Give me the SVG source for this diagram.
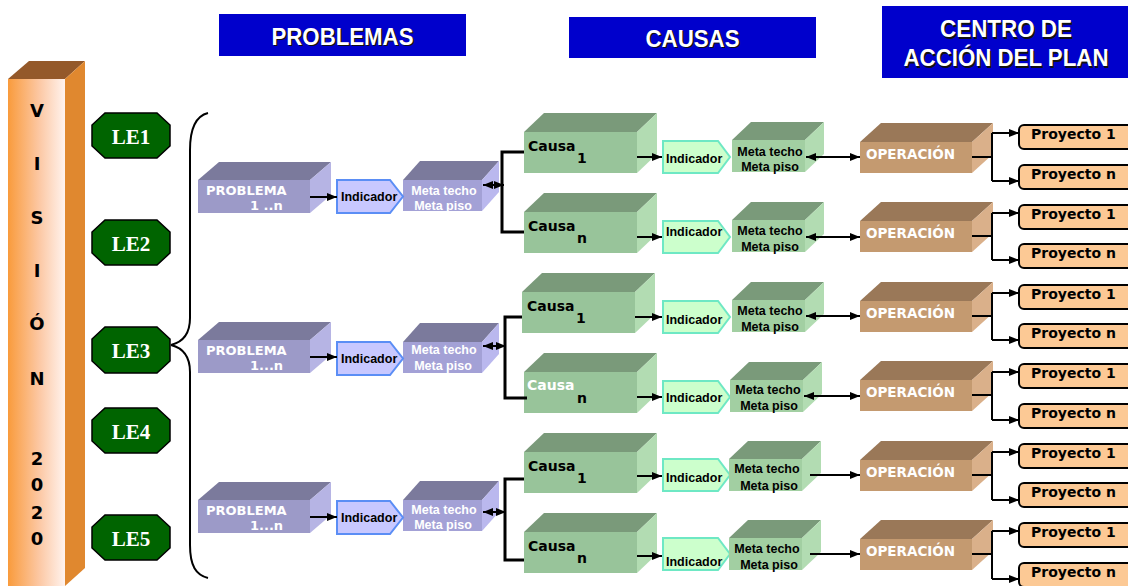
<svg xmlns="http://www.w3.org/2000/svg" width="1128" height="586" viewBox="0 0 1128 586">
<defs>
<linearGradient id="vg" x1="0" y1="0" x2="1" y2="0">
<stop offset="0" stop-color="#f99b3c"/>
<stop offset="0.55" stop-color="#fcc8a4"/>
<stop offset="1" stop-color="#fff3ee"/>
</linearGradient>
<marker id="ah" viewBox="0 0 10 8" refX="10" refY="4" markerWidth="10" markerHeight="8" markerUnits="userSpaceOnUse" orient="auto-start-reverse">
<path d="M0,0 L10,4 L0,8 z" fill="#000"/>
</marker>
<style>
.hdr{fill:#0000cc}
.ht{font-family:"Liberation Sans",Arial,sans-serif;font-weight:bold;font-size:24px;text-anchor:middle}
.hs{fill:#111}
.hw{fill:#fff}
.le{fill:#006400;stroke:#000;stroke-width:1.5}
.let{font-family:"Liberation Serif","Times New Roman",serif;font-weight:bold;font-size:21px;fill:#fff;text-anchor:middle}
.vt{font-family:"DejaVu Sans",sans-serif;font-weight:bold;font-size:18px;fill:#000;text-anchor:middle}
.pf{fill:#9c9ac8}.pt{fill:#7b7a9c}.ps{fill:#b6b4e4}
.mf{fill:#a3a1d6}.ms{fill:#bab8ee}
.cf{fill:#98c49a}.ct{fill:#7a9a7a}.cs{fill:#b2dcb2}
.gf{fill:#a2cfa2}
.of{fill:#c49a70}.ot{fill:#9a7858}.os{fill:#dab08a}
.bi{fill:#c8c8ff;stroke:#5b8ef5;stroke-width:2}
.gi{fill:#ccffcc;stroke:#6ee8c4;stroke-width:2}
.pr{fill:#fcc995;stroke:#000;stroke-width:2}
.bt{font-family:"DejaVu Sans",sans-serif;font-weight:bold}
.pbt{font-size:13px;fill:#fff}
.ct1{font-size:14px;fill:#000}
.opt{font-size:13.5px;fill:#fff}
.prt{font-size:14px;fill:#000}
.st{font-family:"Liberation Sans",Arial,sans-serif;font-weight:bold;font-size:12.5px}
.mw{fill:#fff;text-anchor:middle}
.mb{fill:#000;text-anchor:middle}
.ib{fill:#000}
.ln{fill:none;stroke:#000;stroke-width:2}
.lt{fill:none;stroke:#000;stroke-width:3}
.ar{fill:none;stroke:#000;stroke-width:2;marker-end:url(#ah)}
.da{fill:none;stroke:#000;stroke-width:2;marker-start:url(#ah);marker-end:url(#ah)}
</style>
</defs>
<rect width="1128" height="586" fill="#fff"/>

<g id="headers">
<rect class="hdr" x="219" y="14" width="247" height="42"/>
<text class="ht hs" x="344" y="46" textLength="142" lengthAdjust="spacingAndGlyphs">PROBLEMAS</text>
<text class="ht hw" x="342.5" y="44.5" textLength="142" lengthAdjust="spacingAndGlyphs">PROBLEMAS</text>
<rect class="hdr" x="569" y="17" width="247" height="41"/>
<text class="ht hs" x="694" y="48" textLength="94" lengthAdjust="spacingAndGlyphs">CAUSAS</text>
<text class="ht hw" x="692.5" y="46.5" textLength="94" lengthAdjust="spacingAndGlyphs">CAUSAS</text>
<rect class="hdr" x="882" y="6" width="246" height="72"/>
<text class="ht hs" x="1007.5" y="38.5" textLength="132" lengthAdjust="spacingAndGlyphs">CENTRO DE</text>
<text class="ht hw" x="1006" y="37" textLength="132" lengthAdjust="spacingAndGlyphs">CENTRO DE</text>
<text class="ht hs" x="1007.5" y="67.5" textLength="205" lengthAdjust="spacingAndGlyphs">ACCIÓN DEL PLAN</text>
<text class="ht hw" x="1006" y="66" textLength="205" lengthAdjust="spacingAndGlyphs">ACCIÓN DEL PLAN</text>
</g>

<g id="vision">
<polygon points="8,79 29,61 85,61 65,79" fill="#94592a"/>
<polygon points="65,79 85,61 85,568 65,586" fill="#e0882f"/>
<rect x="8" y="79" width="57" height="507" fill="url(#vg)"/>
<text class="vt" x="37" y="117">V</text>
<text class="vt" x="37" y="170">I</text>
<text class="vt" x="37" y="224">S</text>
<text class="vt" x="37" y="277">I</text>
<text class="vt" x="37" y="330">Ó</text>
<text class="vt" x="37" y="385">N</text>
<text class="vt" x="37" y="465">2</text>
<text class="vt" x="37" y="491">0</text>
<text class="vt" x="37" y="519">2</text>
<text class="vt" x="37" y="545">0</text>
</g>

<g id="le1"><polygon class="le" points="105,113 157,113 170,125 170,146 157,158 105,158 92,146 92,125"/><text class="let" x="131" y="144">LE1</text></g>
<g id="le2"><polygon class="le" points="105,220 157,220 170,232 170,253 157,265 105,265 92,253 92,232"/><text class="let" x="131" y="251">LE2</text></g>
<g id="le3"><polygon class="le" points="105,327 157,327 170,339 170,361 157,373 105,373 92,361 92,339"/><text class="let" x="131" y="358">LE3</text></g>
<g id="le4"><polygon class="le" points="105,408 157,408 170,420 170,441 157,453 105,453 92,441 92,420"/><text class="let" x="131" y="439">LE4</text></g>
<g id="le5"><polygon class="le" points="105,515 157,515 170,527 170,548 157,560 105,560 92,548 92,527"/><text class="let" x="131" y="546">LE5</text></g>

<!-- Problems -->
<g id="problema1">
<polygon class="pt" points="198,180 219,162 331,162 310,180"/><polygon class="ps" points="310,180 331,162 331,195 310,213"/><rect class="pf" x="198" y="180" width="112" height="33"/>
<text class="bt pbt" x="206" y="195">PROBLEMA</text><text class="bt pbt" x="250" y="210">1 ..n</text>
</g>
<g id="meta-p1">
<polygon class="pt" points="403,180 420,161 499,161 482,180"/><polygon class="ms" points="482,180 499,161 499,192 482,211"/><rect class="mf" x="403" y="180" width="79" height="31"/>
<text class="st mw" x="444" y="195">Meta techo</text><text class="st mw" x="443" y="210">Meta piso</text>
</g>
<g id="ind-p1"><polygon class="bi" points="337,180 390,180 403,196.5 390,213 337,213"/><text class="st ib" x="341" y="201">Indicador</text></g>

<g id="problema2">
<polygon class="pt" points="198,340 219,322 331,322 310,340"/><polygon class="ps" points="310,340 331,322 331,355 310,373"/><rect class="pf" x="198" y="340" width="112" height="33"/>
<text class="bt pbt" x="206" y="355">PROBLEMA</text><text class="bt pbt" x="250" y="370">1...n</text>
</g>
<g id="meta-p2">
<polygon class="pt" points="403,342 420,323 499,323 482,342"/><polygon class="ms" points="482,342 499,323 499,354 482,373"/><rect class="mf" x="403" y="342" width="79" height="31"/>
<text class="st mw" x="444" y="354">Meta techo</text><text class="st mw" x="443" y="370">Meta piso</text>
</g>
<g id="ind-p2"><polygon class="bi" points="337,342 390,342 403,358.5 390,375 337,375"/><text class="st ib" x="341" y="363">Indicador</text></g>

<g id="problema3">
<polygon class="pt" points="198,500 219,482 331,482 310,500"/><polygon class="ps" points="310,500 331,482 331,515 310,533"/><rect class="pf" x="198" y="500" width="112" height="33"/>
<text class="bt pbt" x="206" y="515">PROBLEMA</text><text class="bt pbt" x="250" y="530">1...n</text>
</g>
<g id="meta-p3">
<polygon class="pt" points="403,500 420,481 499,481 482,500"/><polygon class="ms" points="482,500 499,481 499,512 482,531"/><rect class="mf" x="403" y="500" width="79" height="31"/>
<text class="st mw" x="444" y="514">Meta techo</text><text class="st mw" x="443" y="529">Meta piso</text>
</g>
<g id="ind-p3"><polygon class="bi" points="337,501 390,501 403,517.5 390,534 337,534"/><text class="st ib" x="341" y="522">Indicador</text></g>

<!-- Causa rows -->
<g id="causa-r1">
<polygon class="ct" points="524,132 544,113 657,113 637,132"/><polygon class="cs" points="637,132 657,113 657,154 637,173"/><rect class="cf" x="524" y="132" width="113" height="41"/>
<text class="bt ct1" x="528" y="151">Causa</text><text class="bt ct1" x="577" y="163">1</text>
</g>
<g id="causa-r2">
<polygon class="ct" points="524,212 544,193 657,193 637,212"/><polygon class="cs" points="637,212 657,193 657,234 637,253"/><rect class="cf" x="524" y="212" width="113" height="41"/>
<text class="bt ct1" x="528" y="231">Causa</text><text class="bt ct1" x="577" y="243">n</text>
</g>
<g id="causa-r3">
<polygon class="ct" points="522,292 542,273 655,273 635,292"/><polygon class="cs" points="635,292 655,273 655,314 635,333"/><rect class="cf" x="522" y="292" width="113" height="41"/>
<text class="bt ct1" x="527" y="311">Causa</text><text class="bt ct1" x="576" y="323">1</text>
</g>
<g id="causa-r4">
<polygon class="ct" points="524,372 544,353 657,353 637,372"/><polygon class="cs" points="637,372 657,353 657,394 637,413"/><rect class="cf" x="524" y="372" width="113" height="41"/>
<text class="bt ct1" x="527" y="390" style="fill:#fff">Causa</text><text class="bt ct1" x="577" y="403">n</text>
</g>
<g id="causa-r5">
<polygon class="ct" points="524,452 544,433 657,433 637,452"/><polygon class="cs" points="637,452 657,433 657,474 637,493"/><rect class="cf" x="524" y="452" width="113" height="41"/>
<text class="bt ct1" x="528" y="471">Causa</text><text class="bt ct1" x="577" y="483">1</text>
</g>
<g id="causa-r6">
<polygon class="ct" points="524,532 544,513 657,513 637,532"/><polygon class="cs" points="637,532 657,513 657,554 637,573"/><rect class="cf" x="524" y="532" width="113" height="41"/>
<text class="bt ct1" x="528" y="551">Causa</text><text class="bt ct1" x="577" y="563">n</text>
</g>

<!-- Green indicadores -->
<g id="ind-r1"><polygon class="gi" points="663,141 718,141 730,157 718,173 663,173"/><text class="st ib" x="666" y="163">Indicador</text></g>
<g id="ind-r2"><polygon class="gi" points="663,221 718,221 730,237 718,253 663,253"/><text class="st ib" x="666" y="236">Indicador</text></g>
<g id="ind-r3"><polygon class="gi" points="663,301 718,301 730,317 718,333 663,333"/><text class="st ib" x="666" y="324">Indicador</text></g>
<g id="ind-r4"><polygon class="gi" points="663,381 718,381 730,397 718,413 663,413"/><text class="st ib" x="666" y="402">Indicador</text></g>
<g id="ind-r5"><polygon class="gi" points="663,459 718,459 730,475 718,491 663,491"/><text class="st ib" x="666" y="482">Indicador</text></g>
<g id="ind-r6"><polygon class="gi" points="663,538 718,538 730,554 718,570 663,570"/><text class="st ib" x="666" y="566">Indicador</text></g>

<!-- Green metas -->
<g id="meta-r1"><polygon class="ct" points="732,140 751,122 824,122 805,140"/><polygon class="cs" points="805,140 824,122 824,154 805,172"/><rect class="gf" x="732" y="140" width="73" height="32"/><text class="st mb" x="770" y="156">Meta techo</text><text class="st mb" x="770" y="171">Meta piso</text></g>
<g id="meta-r2"><polygon class="ct" points="732,220 751,202 824,202 805,220"/><polygon class="cs" points="805,220 824,202 824,234 805,252"/><rect class="gf" x="732" y="220" width="73" height="32"/><text class="st mb" x="770" y="235">Meta techo</text><text class="st mb" x="770" y="251">Meta piso</text></g>
<g id="meta-r3"><polygon class="ct" points="732,300 751,282 824,282 805,300"/><polygon class="cs" points="805,300 824,282 824,314 805,332"/><rect class="gf" x="732" y="300" width="73" height="32"/><text class="st mb" x="770" y="315">Meta techo</text><text class="st mb" x="770" y="331">Meta piso</text></g>
<g id="meta-r4"><polygon class="ct" points="730,380 749,362 822,362 803,380"/><polygon class="cs" points="803,380 822,362 822,394 803,412"/><rect class="gf" x="730" y="380" width="73" height="32"/><text class="st mb" x="768" y="394">Meta techo</text><text class="st mb" x="769" y="410">Meta piso</text></g>
<g id="meta-r5"><polygon class="ct" points="729,459 748,441 821,441 802,459"/><polygon class="cs" points="802,459 821,441 821,473 802,491"/><rect class="gf" x="729" y="459" width="73" height="32"/><text class="st mb" x="767" y="473">Meta techo</text><text class="st mb" x="769" y="490">Meta piso</text></g>
<g id="meta-r6"><polygon class="ct" points="729,538 748,520 821,520 802,538"/><polygon class="cs" points="802,538 821,520 821,552 802,570"/><rect class="gf" x="729" y="538" width="73" height="32"/><text class="st mb" x="767" y="553">Meta techo</text><text class="st mb" x="769" y="569">Meta piso</text></g>

<!-- Operaciones -->
<g id="op-r1"><polygon class="ot" points="860,142 881,123 993,123 972,142"/><polygon class="os" points="972,142 993,123 993,154 972,173"/><rect class="of" x="860" y="142" width="112" height="31"/><text class="bt opt" x="866" y="159">OPERACIÓN</text></g>
<g id="op-r2"><polygon class="ot" points="860,221 881,202 993,202 972,221"/><polygon class="os" points="972,221 993,202 993,233 972,252"/><rect class="of" x="860" y="221" width="112" height="31"/><text class="bt opt" x="866" y="238">OPERACIÓN</text></g>
<g id="op-r3"><polygon class="ot" points="860,301 881,282 993,282 972,301"/><polygon class="os" points="972,301 993,282 993,313 972,332"/><rect class="of" x="860" y="301" width="112" height="31"/><text class="bt opt" x="866" y="318">OPERACIÓN</text></g>
<g id="op-r4"><polygon class="ot" points="860,380 881,361 993,361 972,380"/><polygon class="os" points="972,380 993,361 993,392 972,411"/><rect class="of" x="860" y="380" width="112" height="31"/><text class="bt opt" x="866" y="397">OPERACIÓN</text></g>
<g id="op-r5"><polygon class="ot" points="860,460 881,441 993,441 972,460"/><polygon class="os" points="972,460 993,441 993,472 972,491"/><rect class="of" x="860" y="460" width="112" height="31"/><text class="bt opt" x="866" y="477">OPERACIÓN</text></g>
<g id="op-r6"><polygon class="ot" points="860,539 881,520 993,520 972,539"/><polygon class="os" points="972,539 993,520 993,551 972,570"/><rect class="of" x="860" y="539" width="112" height="31"/><text class="bt opt" x="866" y="556">OPERACIÓN</text></g>

<!-- Proyectos -->
<g id="proy-r1-1"><rect class="pr" x="1019" y="125" width="125" height="24" rx="5"/><text class="bt prt" x="1031" y="139">Proyecto 1</text></g>
<g id="proy-r1-n"><rect class="pr" x="1019" y="165" width="125" height="24" rx="5"/><text class="bt prt" x="1031" y="179">Proyecto n</text></g>
<g id="proy-r2-1"><rect class="pr" x="1019" y="205" width="125" height="24" rx="5"/><text class="bt prt" x="1031" y="219">Proyecto 1</text></g>
<g id="proy-r2-n"><rect class="pr" x="1019" y="244" width="125" height="24" rx="5"/><text class="bt prt" x="1031" y="258">Proyecto n</text></g>
<g id="proy-r3-1"><rect class="pr" x="1019" y="285" width="125" height="24" rx="5"/><text class="bt prt" x="1031" y="299">Proyecto 1</text></g>
<g id="proy-r3-n"><rect class="pr" x="1019" y="324" width="125" height="24" rx="5"/><text class="bt prt" x="1031" y="338">Proyecto n</text></g>
<g id="proy-r4-1"><rect class="pr" x="1019" y="364" width="125" height="24" rx="5"/><text class="bt prt" x="1031" y="378">Proyecto 1</text></g>
<g id="proy-r4-n"><rect class="pr" x="1019" y="404" width="125" height="24" rx="5"/><text class="bt prt" x="1031" y="418">Proyecto n</text></g>
<g id="proy-r5-1"><rect class="pr" x="1019" y="444" width="125" height="24" rx="5"/><text class="bt prt" x="1031" y="458">Proyecto 1</text></g>
<g id="proy-r5-n"><rect class="pr" x="1019" y="483" width="125" height="24" rx="5"/><text class="bt prt" x="1031" y="497">Proyecto n</text></g>
<g id="proy-r6-1"><rect class="pr" x="1019" y="523" width="125" height="24" rx="5"/><text class="bt prt" x="1031" y="537">Proyecto 1</text></g>
<g id="proy-r6-n"><rect class="pr" x="1019" y="563" width="125" height="24" rx="5"/><text class="bt prt" x="1031" y="577">Proyecto n</text></g>

<g id="connectors">
<path class="ln" d="M208,113 C196,116 190,128 190,150 L190,318 C190,334 183,342 171,345 C183,348 190,356 190,372 L190,545 C190,566 196,575 208,578"/>
<line class="ar" x1="310" y1="197" x2="337" y2="197"/>
<line class="ar" x1="310" y1="357" x2="337" y2="357"/>
<line class="ar" x1="310" y1="517" x2="337" y2="517"/>
<line class="da" x1="483" y1="185" x2="504" y2="185"/>
<line class="da" x1="483" y1="346" x2="506" y2="346"/>
<line class="da" x1="483" y1="512" x2="506" y2="512"/>
<path class="lt" d="M524,152 H502 V232 H524"/>
<path class="lt" d="M522,317 H505 V398 H527"/>
<path class="lt" d="M524,479 H505 V560 H524"/>
<line class="ar" x1="637" y1="157" x2="662" y2="157"/>
<line class="ar" x1="637" y1="237" x2="662" y2="237"/>
<line class="ar" x1="635" y1="317" x2="662" y2="317"/>
<line class="ar" x1="637" y1="397" x2="662" y2="397"/>
<line class="ar" x1="637" y1="476" x2="662" y2="476"/>
<line class="ar" x1="637" y1="556" x2="662" y2="556"/>
<line class="da" x1="806" y1="157" x2="860" y2="157"/>
<line class="da" x1="806" y1="237" x2="860" y2="237"/>
<line class="da" x1="806" y1="316" x2="860" y2="316"/>
<line class="da" x1="804" y1="396" x2="860" y2="396"/>
<line class="ar" x1="810" y1="475" x2="860" y2="475"/>
<line class="ar" x1="810" y1="554" x2="860" y2="554"/>
<path class="ln" d="M972,157 H992 M992,133 V181"/><line class="ar" x1="992" y1="133" x2="1019" y2="133"/><line class="ar" x1="992" y1="181" x2="1019" y2="181"/>
<path class="ln" d="M972,236 H992 M992,213 V260"/><line class="ar" x1="992" y1="213" x2="1019" y2="213"/><line class="ar" x1="992" y1="260" x2="1019" y2="260"/>
<path class="ln" d="M972,316 H992 M992,293 V340"/><line class="ar" x1="992" y1="293" x2="1019" y2="293"/><line class="ar" x1="992" y1="340" x2="1019" y2="340"/>
<path class="ln" d="M972,395 H992 M992,372 V420"/><line class="ar" x1="992" y1="372" x2="1019" y2="372"/><line class="ar" x1="992" y1="420" x2="1019" y2="420"/>
<path class="ln" d="M972,475 H992 M992,452 V500"/><line class="ar" x1="992" y1="452" x2="1019" y2="452"/><line class="ar" x1="992" y1="500" x2="1019" y2="500"/>
<path class="ln" d="M972,554 H992 M992,531 V579"/><line class="ar" x1="992" y1="531" x2="1019" y2="531"/><line class="ar" x1="992" y1="579" x2="1019" y2="579"/>
</g>
</svg>
